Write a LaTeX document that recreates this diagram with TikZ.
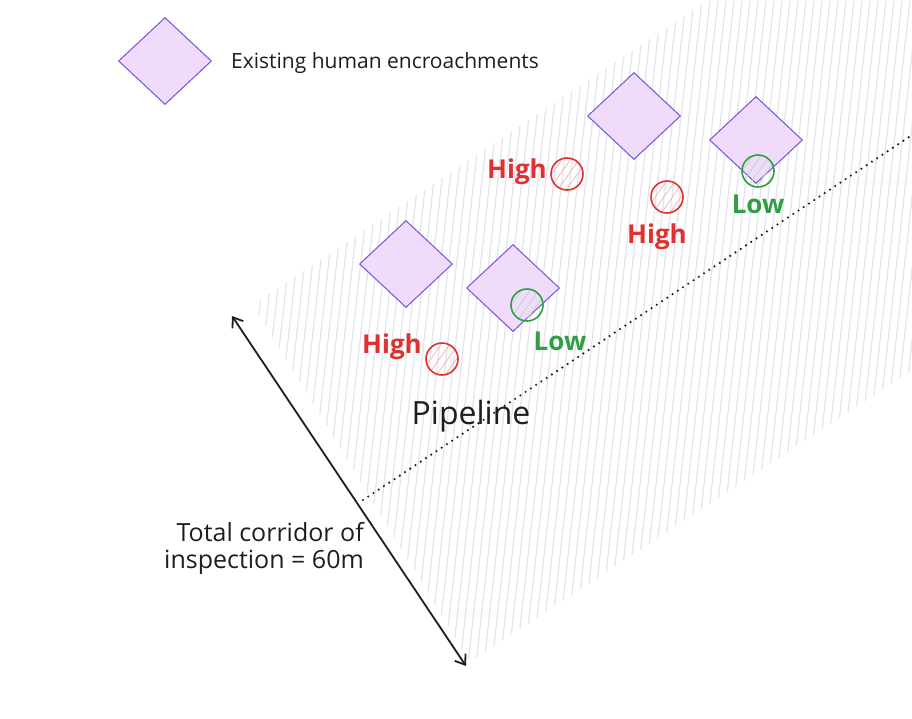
\documentclass[tikz,border=0pt]{standalone}
\usepackage{fontspec}
\setmainfont{Open Sans}
\usepackage{tikz}
\usetikzlibrary{shapes.geometric}
\usetikzlibrary{arrows.meta}
\usetikzlibrary{patterns.meta}

\definecolor{encfill}{RGB}{240,220,250}
\definecolor{encline}{RGB}{112,84,224}
\definecolor{hatchgray}{RGB}{226,229,237}
\definecolor{riskred}{RGB}{224,49,49}
\definecolor{riskgreen}{RGB}{47,158,68}
\definecolor{inkblack}{RGB}{30,30,30}

\tikzset{
  encroachment/.style={diamond, draw=encline, line width=1pt, fill=encfill, minimum width=93pt, minimum height=87pt, inner sep=0pt},
  highrisk/.style={circle, draw=riskred, line width=1.6pt, minimum size=32pt, inner sep=0pt, pattern={Lines[angle=55,distance=7pt,line width=0.8pt]}, pattern color=riskred!35},
  lowrisk/.style={circle, draw=riskgreen, line width=1.6pt, minimum size=32pt, inner sep=0pt, pattern={Lines[angle=55,distance=7pt,line width=0.8pt]}, pattern color=riskgreen!35},
  hightext/.style={text=riskred, inner sep=0pt, font=\fontsize{26}{32}\selectfont\bfseries},
  lowtext/.style={text=riskgreen, inner sep=0pt, font=\fontsize{26}{32}\selectfont\bfseries},
  plaintext/.style={text=inkblack, inner sep=0pt, font=\fontsize{22}{26}\selectfont}
}

\begin{document}
\begin{tikzpicture}[x=1pt, y=-1pt]

\useasboundingbox (0,0) rectangle (912,718);

% inspection corridor
\coordinate (bandA) at (253,305);
\coordinate (bandB) at (470,662);
\coordinate (bandC) at (912,370);
\coordinate (bandD) at (912,0);
\coordinate (bandE) at (708,0);
\begin{scope}
	\clip (bandA) -- (bandB) -- (bandC) -- (bandD) -- (bandE) -- cycle;
	\foreach \hx in {150,158,...,912}
		\draw[hatchgray, line width=1.3pt] (\hx,718) -- ++(80,-718);
\end{scope}

% pipeline
\coordinate (pipeA) at (363,500);
\coordinate (pipeB) at (912,135);
\draw[inkblack, line width=2.4pt, line cap=round, dash pattern=on 0pt off 6.3pt] (pipeA) -- (pipeB);
\node at (471,416) [text=inkblack, inner sep=0pt, font=\fontsize{32}{38}\selectfont] (pipelabel) {Pipeline};

% legend
\node at (165,61) [encroachment] (encKey) {};
\node at (231,63) [plaintext, font=\fontsize{21}{26}\selectfont, anchor=west] (keylabel) {Existing human encroachments};

% encroachments
\node at (406,264) [encroachment] (encA) {};
\node at (513,288) [encroachment] (encB) {};
\node at (634,116) [encroachment] (encC) {};
\node at (756,140) [encroachment] (encD) {};

% risk markers
\node at (442,359) [highrisk] (riskA) {};
\node at (527,305) [lowrisk] (riskB) {};
\node at (567,174) [highrisk] (riskC) {};
\node at (667,197) [highrisk] (riskD) {};
\node at (758,171) [lowrisk] (riskE) {};

\node at (392,347) [hightext] (riskAlabel) {High};
\node at (560,341) [lowtext] (riskBlabel) {Low};
\node at (517,172) [hightext] (riskClabel) {High};
\node at (657,237) [hightext] (riskDlabel) {High};
\node at (758,204) [lowtext] (riskElabel) {Low};

% corridor width
\coordinate (corrtop) at (232,316);
\coordinate (corrbot) at (466,666);
\draw[inkblack, line width=1.8pt, {Straight Barb[length=9pt,width=13pt]}-{Straight Barb[length=9pt,width=13pt]}] (corrtop) -- (corrbot);
\node at (364,548) [plaintext, font=\fontsize{25}{27}\selectfont, anchor=east, align=right] (corrlabel) {Total corridor of\\inspection = 60m};

\end{tikzpicture}
\end{document}
